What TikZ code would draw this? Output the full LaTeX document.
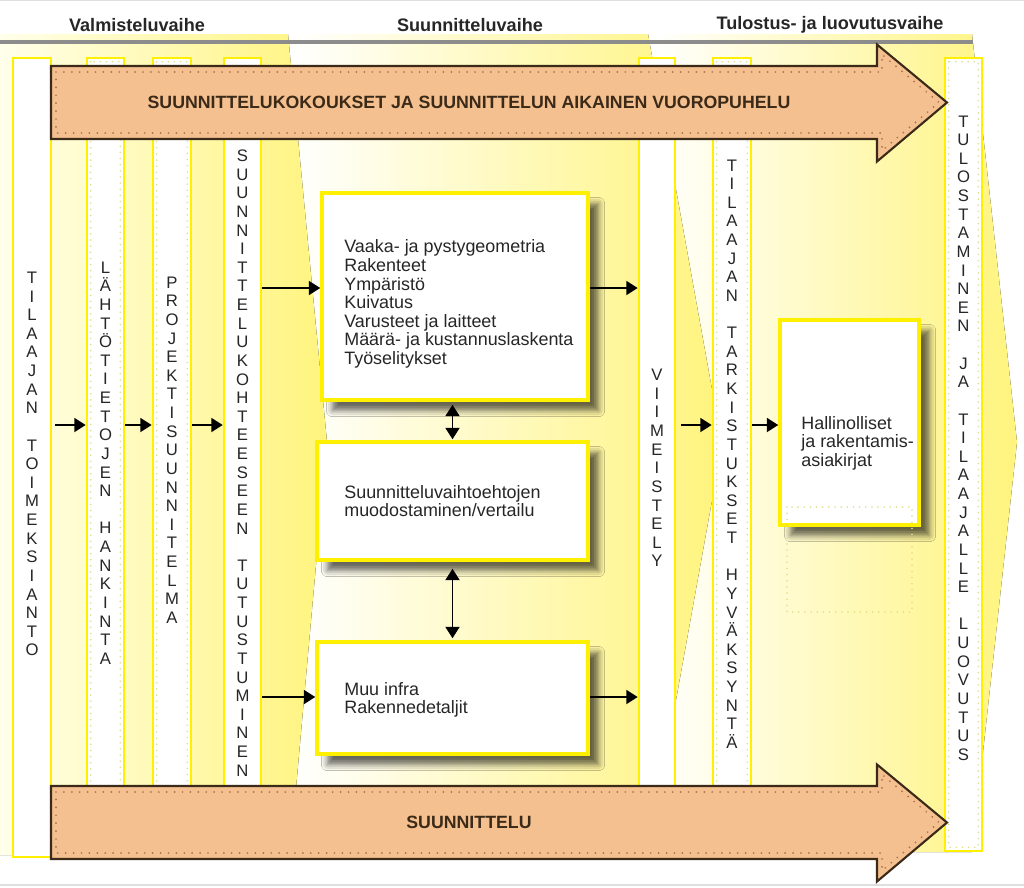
\documentclass[tikz,border=0pt]{standalone}
\usepackage{fontspec}
\setmainfont{Liberation Sans}
\usetikzlibrary{positioning, fit, arrows.meta, shadows.blur}

\definecolor{bordery}{RGB}{255,240,0}
\definecolor{bgyellow}{RGB}{255,244,125}
\definecolor{peach}{RGB}{244,192,143}
\definecolor{arrowedge}{RGB}{60,42,25}
\definecolor{dotbrown}{RGB}{170,115,75}
\definecolor{dotyellow}{RGB}{222,222,140}
\definecolor{textgrey}{RGB}{38,38,38}
\definecolor{rulegrey}{RGB}{140,140,140}

% letters of a word one under the other, ~ for a gap
\def\vstack#1{\vstackfirst#1\relax}
\def\vstackfirst#1{#1\vstacknext}
\def\vstacknext#1{\ifx#1\relax\else\\#1\expandafter\vstacknext\fi}

\tikzset{
  column/.style={draw=bordery, line width=1.5pt, fill=white, inner sep=0pt},
  coldots/.style={draw=dotyellow, line width=1pt, line cap=round, dash pattern=on 0pt off 3.5pt},
  box/.style={draw=bordery, line width=2pt, fill=white, inner sep=0pt,
    blur shadow={shadow xshift=6pt, shadow yshift=-6pt, shadow blur radius=3.5pt, shadow opacity=60}},
  boxtext/.style={anchor=west, align=left, inner sep=0pt, text=textgrey, font=\fontsize{10.2}{10.6}\selectfont},
  vtext/.style={align=center, inner sep=0pt, text=textgrey, font=\fontsize{9.5}{10.6}\selectfont},
  phase/.style={text=textgrey, font=\bfseries\fontsize{10.3}{12}\selectfont},
  bandtext/.style={text=arrowedge, font=\bfseries\fontsize{10.1}{12}\selectfont},
  flow/.style={-{Triangle[length=6.5pt, width=8pt]}, line width=1pt, black},
  twoway/.style={{Triangle[length=6.5pt, width=8pt]}-{Triangle[length=6.5pt, width=8pt]}, line width=1pt, black}
}

\begin{document}
\begin{tikzpicture}[x=0.02cm, y=-0.02cm]
\useasboundingbox (0,0) rectangle (1024,887);

% phase backgrounds
\fill[left color=white, right color=bgyellow] (650,34) -- (972,34) -- (1017,442) -- (972,852) -- (650,852) -- cycle;
\fill[left color=white, right color=bgyellow] (290,34) -- (648,34) -- (722,445) -- (648,855) -- (290,855) -- cycle;
\fill[left color=yellow!8, right color=bgyellow] (0,34) -- (288,34) -- (327,442) -- (290,855) -- (0,855) -- cycle;

\draw[gray!25, line width=0.6pt] (0,0.5) -- (1024,0.5);
\draw[gray!25, line width=0.6pt] (0,885) -- (1024,885);
\draw[rulegrey, line width=2.3pt] (0,42) -- (973,42);

\node[phase] (hdprep) at (137,25) {Valmisteluvaihe};
\node[phase] (hdplan) at (470,25) {Suunnitteluvaihe};
\node[phase] (hdout) at (830,25) {Tulostus- ja luovutusvaihe};

\coordinate (row) at (0,425);
\coordinate (upper) at (0,288);
\coordinate (lower) at (0,697);

% columns
\node[column, fit={(13,58) (51,857)}] (order) {};
\node[column, fit={(87,58) (124,800)}] (data) {};
\node[column, fit={(153,58) (191,800)}] (proj) {};
\node[column, fit={(224,58) (261,800)}] (intro) {};
\node[column, fit={(639,58) (675,800)}] (finish) {};
\node[column, fit={(713,58) (751,800)}] (check) {};
\node[column, fit={(945,58) (982,851)}] (handover) {};
\foreach \c in {data, proj, check, handover}
  \draw[coldots] ([shift={(5,5)}]\c.north west) rectangle ([shift={(-5,-5)}]\c.south east);

\node[vtext] (ordertext) at (32,464) {\vstack{TILAAJAN~TOIMEKSIANTO}};
\node[vtext] (datatext) at (105.5,463) {\vstack{LÄHTÖTIETOJEN~HANKINTA}};
\node[vtext] (projtext) at (172,450) {\vstack{PROJEKTISUUNNITELMA}};
\node[vtext] (introtext) at (242.5,463) {\vstack{SUUNNITTELUKOHTEESEEN~TUTUSTUMINEN}};
\node[vtext] (finishtext) at (657,468) {\vstack{VIIMEISTELY}};
\node[vtext] (checktext) at (732,454) {\vstack{TILAAJAN~TARKISTUKSET~HYVÄKSYNTÄ}};
\node[vtext] (handovertext) at (963.5,438) {\vstack{TULOSTAMINEN~JA~TILAAJALLE~LUOVUTUS}};

% design boxes
\node[box, fit={(322,193) (588,400)}] (geo) {};
\node[box, fit={(317,442) (588,560)}] (alt) {};
\node[box, fit={(317,642) (588,754)}] (infra) {};
\node[box, fit={(780,320) (919,525)}] (docs) {};
\draw[coldots] (787,507) rectangle (912,612);

\node[boxtext] (geotext) at (344,304) {Vaaka- ja pystygeometria\\Rakenteet\\Ympäristö\\Kuivatus\\Varusteet ja laitteet\\Määrä- ja kustannuslaskenta\\Työselitykset};
\node[boxtext] (alttext) at (344,501) {Suunnitteluvaihtoehtojen\\muodostaminen/vertailu};
\node[boxtext] (infratext) at (344,700) {Muu infra\\Rakennedetaljit};
\node[boxtext] (docstext) at (801,443) {Hallinolliset\\ja rakentamis-\\asiakirjat};

% connectors
\draw[flow, shorten <=0.06cm] (order.east |- row) -- (data.west |- row);
\draw[flow] (data.east |- row) -- (proj.west |- row);
\draw[flow] (proj.east |- row) -- (intro.west |- row);
\draw[flow] (intro.east |- upper) -- (geo.west |- upper);
\draw[flow] (intro.east |- lower) -- (infra.west |- lower);
\draw[flow] (geo.east |- upper) -- (finish.west |- upper);
\draw[flow] (infra.east |- lower) -- (finish.west |- lower);
\draw[flow, shorten <=0.1cm] (finish.east |- row) -- (check.west |- row);
\draw[flow] (check.east |- row) -- (docs.west |- row);
\draw[twoway, shorten <=0.06cm, shorten >=0.02cm] (geo.south -| alt.north) -- (alt.north);
\draw[twoway, shorten <=0.14cm, shorten >=0.04cm] (alt.south -| infra.north) -- (infra.north);

% big arrows
\foreach \yc/\nm/\lbl in {102.5/meet/{SUUNNITTELUKOKOUKSET JA SUUNNITTELUN AIKAINEN VUOROPUHELU}, 822.5/plan/{SUUNNITTELU}} {
  \draw[fill=peach, draw=arrowedge, line width=1.2pt, line join=miter]
    (51,{\yc-36.5}) -- (877,{\yc-36.5}) -- (877,{\yc-58}) -- (947,\yc) -- (877,{\yc+59}) -- (877,{\yc+36.5}) -- (51,{\yc+36.5}) -- cycle;
  \draw[dotbrown, line width=1.1pt, line cap=round, dash pattern=on 0pt off 4.5pt]
    (56,{\yc-30.5}) -- (882,{\yc-30.5}) -- (882,{\yc-48}) -- (939,\yc) -- (882,{\yc+48}) -- (882,{\yc+30.5}) -- (56,{\yc+30.5}) -- cycle;
  \node[bandtext] (\nm) at (469,\yc) {\lbl};
}
\end{tikzpicture}
\end{document}
